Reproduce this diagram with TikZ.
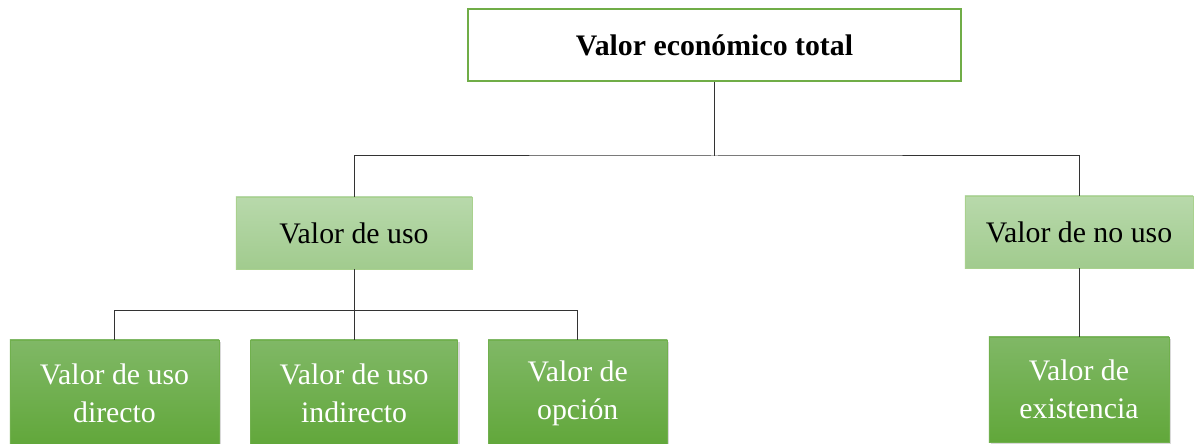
\documentclass[tikz,border=0pt]{standalone}
\usepackage{fontspec}
\setmainfont{Liberation Serif}
\usetikzlibrary{positioning, shadows}
\usepackage{xcolor}
\definecolor{vborde}{HTML}{70AD47}
\definecolor{vclaroA}{HTML}{B8D9AB}
\definecolor{vclaroB}{HTML}{A1CB8E}
\definecolor{vclaroL}{HTML}{A9D18E}
\definecolor{voscA}{HTML}{80B866}
\definecolor{voscB}{HTML}{61A73A}
\tikzset{
	x=0.025cm, y=-0.025cm,
	font=\fontsize{21.2}{27}\selectfont,
	raiz/.style={draw=vborde, line width=1.4pt, fill=white, minimum width=12.3cm, minimum height=1.8cm, font=\fontsize{21.2}{27}\selectfont\bfseries},
	rama/.style={draw=vclaroL, line width=0.6pt, top color=vclaroA, bottom color=vclaroB, minimum height=1.8cm, align=center},
	hoja/.style={draw=voscB!90, line width=0.4pt, top color=voscA, bottom color=voscB, text=white, minimum height=2.65cm, align=center, inner sep=2pt, drop shadow={shadow xshift=1.5pt, shadow yshift=-1.5pt, opacity=0.3}},
	linea/.style={draw=black!80, line width=0.7pt}}
\begin{document}
\begin{tikzpicture}
		\useasboundingbox (0,0) rectangle (1195,444);
		
		\node[raiz] (vet) at (714.5,45) {Valor económico total};
		
		\node[rama, minimum width=5.9cm] (uso) at (354,233) {Valor de uso};
		\node[rama, minimum width=5.7cm] (nouso) at (1079,232) {Valor de no uso};
		
		\node[hoja, minimum width=5.225cm] (directo) at (114.5,393) {Valor de uso\\directo};
		\node[hoja, minimum width=5.175cm, right=0.775cm of directo] (indirecto) {Valor de uso\\indirecto};
		\node[hoja, minimum width=4.475cm, right=0.75cm of indirecto] (opcion) {Valor de\\opción};
		\node[hoja, minimum width=4.5cm, minimum height=2.625cm] (existencia) at (1079,389.5) {Valor de\\existencia};
		
		\draw[linea] (vet.south) -- ++(0,74) coordinate (j1);
		\draw[linea] (uso.north) |- (j1) -| (nouso.north);
		
		\draw[linea] (uso.south) -- ++(0,41) coordinate (j2);
		\draw[linea] (directo.north) |- (j2) -| (opcion.north);
		\draw[linea] (j2) -- (j2 |- indirecto.north);
		
		\draw[linea] (nouso.south) -- (existencia.north);
	\end{tikzpicture}
\end{document}
